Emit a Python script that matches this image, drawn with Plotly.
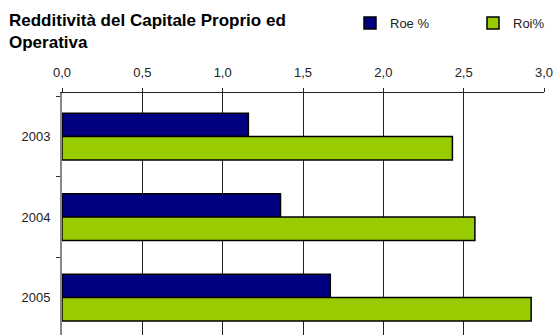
import plotly.graph_objects as go

# Redditività: ROE and ROI per year
years = ["2003", "2004", "2005"]
roe = [1.16, 1.36, 1.67]
roi = [2.43, 2.57, 2.92]
x_ticks = [0, 0.5, 1.0, 1.5, 2.0, 2.5, 3.0]

W, H = 554, 335
L, R, T = 62, 10, 93
PW = W - L - R
FONT = "Liberation Sans, Arial, sans-serif"


def px_x(px):
    """Pixel x -> plot-area fraction used by paper refs."""
    return (px - L) / PW


fig = go.Figure()
fig.add_trace(go.Bar(
    y=years, x=roe, orientation="h", name="Roe %", legend="legend",
    marker=dict(color="#000080", line=dict(color="#000000", width=1.5)),
))
fig.add_trace(go.Bar(
    y=years, x=roi, orientation="h", name="Roi%", legend="legend2",
    marker=dict(color="#99CC00", line=dict(color="#000000", width=1.5)),
))

legend_common = dict(
    orientation="h", yref="container", y=1 - 8 / H,
    xanchor="left", yanchor="top", itemwidth=30,
    font=dict(size=13, family=FONT, color="#222222"),
    bgcolor="rgba(0,0,0,0)", borderwidth=0,
)

fig.update_layout(
    width=W, height=H,
    margin=dict(l=L, r=R, t=T, b=0),
    paper_bgcolor="white", plot_bgcolor="white",
    barmode="group", bargap=0.42, bargroupgap=0,
    separators=",.",
    font=dict(family=FONT, size=13, color="#222222"),
    showlegend=True,
    legend=dict(x=px_x(350), **legend_common),
    legend2=dict(x=px_x(473), **legend_common),
    xaxis=dict(
        side="top", range=[0, 3], tickvals=x_ticks, tickformat=".1f",
        showgrid=True, gridcolor="#222222", gridwidth=1,
        showline=True, linecolor="#222222", linewidth=1,
        ticks="outside", ticklen=4, tickcolor="#222222",
        ticklabelstandoff=6,
        zeroline=False, fixedrange=True,
    ),
    yaxis=dict(
        type="category", range=[2.465, -0.541],
        showline=True, linecolor="#888888", linewidth=2,
        ticks="outside", ticklen=4, tickcolor="#333333", tickson="boundaries",
        ticklabelstandoff=7,
        showgrid=False, zeroline=False, fixedrange=True,
    ),
)

fig.add_annotation(
    xref="paper", yref="paper", x=px_x(7), y=1 + 84 / (H - T),
    xanchor="left", yanchor="top", align="left", showarrow=False,
    text="<b>Redditività del Capitale Proprio ed<br>Operativa</b>",
    font=dict(family=FONT, size=17, color="#000000"),
)

fig.write_html("out.html")
